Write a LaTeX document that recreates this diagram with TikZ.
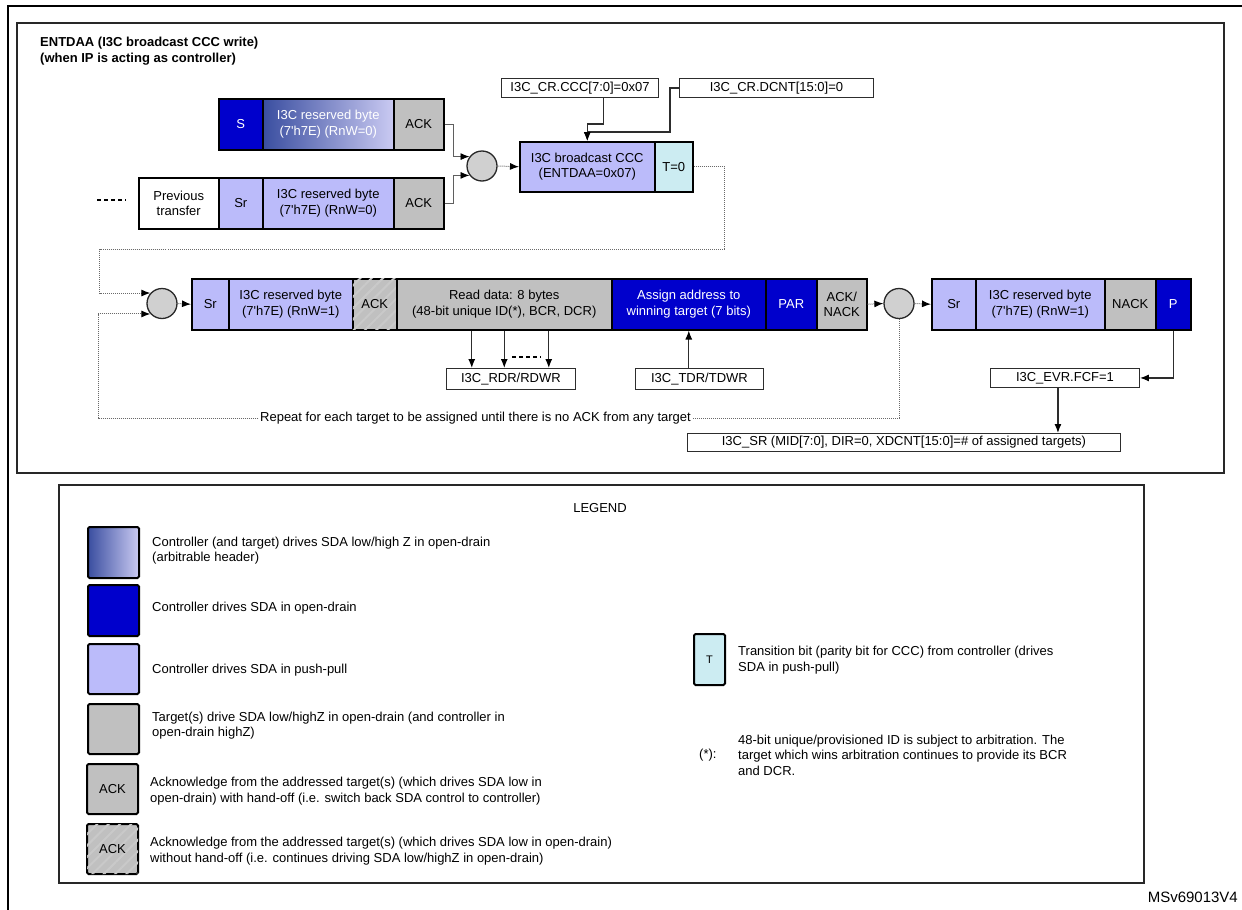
\documentclass[tikz,border=0pt]{standalone}
\usepackage{fontspec}
\setmainfont{Liberation Sans}
\usetikzlibrary{arrows.meta,patterns.meta,calc}
\definecolor{cdblue}{RGB}{0,0,204}
\definecolor{clav}{RGB}{187,187,250}
\definecolor{cgray}{RGB}{192,192,192}
\definecolor{ccyan}{RGB}{204,236,242}
\definecolor{cgl}{RGB}{58,78,160}
\definecolor{cgr}{RGB}{202,202,242}
\definecolor{chatch}{RGB}{201,201,201}
\definecolor{cjoin}{RGB}{208,208,208}
\definecolor{cline}{RGB}{45,45,45}
\definecolor{cthin}{RGB}{95,95,95}
\definecolor{cdot}{RGB}{105,105,105}
\definecolor{cframe}{RGB}{40,40,40}
\newcommand\fsz{\fontsize{13}{15.5}\selectfont}
\begin{document}
\begin{tikzpicture}[x=1pt,y=-1pt,
  >={Latex[length=9pt,width=7pt,color=black]},
  cell/.style={draw=black, line width=1.5pt, inner sep=0pt, minimum height=51pt, anchor=north west, align=center, font=\fsz},
  dblue/.style={cell, fill=cdblue, text=white},
  lav/.style={cell, fill=clav},
  gry/.style={cell, fill=cgray},
  hatch/.style={cell, fill=cgray, postaction={pattern={Lines[angle=45,distance=8pt,line width=2pt]}, pattern color=chatch}},
  jn/.style={circle, draw=cframe, line width=1.3pt, fill=cjoin, minimum size=30pt, inner sep=0pt},
  lbl/.style={draw=cline, line width=0.9pt, fill=white, inner sep=0pt, anchor=north west, font=\fsz},
  conn/.style={draw=cthin, line width=0.9pt, ->},
  dconn/.style={draw=cdot, line width=1pt, dash pattern=on 1pt off 1pt, ->},
  lconn/.style={draw=cline, line width=1.2pt, ->},
  dashline/.style={draw=black, line width=2pt, dash pattern=on 4pt off 3pt},
  sw/.style={draw=black, line width=2pt, rounded corners=1.5pt, minimum width=51pt, minimum height=51pt, anchor=north west, inner sep=0pt, font=\fsz},
  ltext/.style={anchor=west, align=left, font=\fsz, inner sep=0pt},
  frame/.style={draw=cframe, line width=1.3pt}
]
\useasboundingbox (0,0) rectangle (1242,910);
% outer and inner frames
\draw[line width=2pt] (8,910) -- (8,6) -- (1242,6);
\draw[frame] (17,23) rectangle (1224,473);
\node[anchor=west, align=left, font=\fsz\bfseries, inner sep=0pt] (title) at (40,51) {ENTDAA (I3C broadcast CCC write)\\(when IP is acting as controller)};

% row 1
\node[dblue, minimum width=44pt] (s1) at (218,98) {S};
\node[cell, left color=cgl, right color=cgr, text=white, minimum width=131pt] (rb1) at (262,98) {I3C reserved byte\\(7\textquotesingle h7E) (RnW=0)};
\node[gry, minimum width=50pt] (ack1) at (393,98) {ACK};
% row 2
\draw[dashline] (97,200) -- (126,200);
\node[cell, fill=white, minimum width=80pt] (prev) at (138,177) {Previous\\transfer};
\node[lav, minimum width=44pt] (sr0) at (218,177) {Sr};
\node[lav, minimum width=131pt] (rb2) at (262,177) {I3C reserved byte\\(7\textquotesingle h7E) (RnW=0)};
\node[gry, minimum width=50pt] (ack2) at (393,177) {ACK};
% join 1 and CCC
\node[jn] (j1) at (482,166) {};
\node[lav, minimum width=135pt, minimum height=50pt] (ccc) at (519,141) {I3C broadcast CCC\\(ENTDAA=0x07)};
\node[cell, fill=ccyan, minimum width=38pt, minimum height=50pt] (t0) at (654,141) {T=0};
\node[lbl, minimum width=157pt, minimum height=19pt] (lccc) at (501,78) {I3C\_CR.CCC[7:0]=0x07};
\node[lbl, minimum width=194pt, minimum height=19pt] (ldcnt) at (679,78) {I3C\_CR.DCNT[15:0]=0};

\draw[conn] (ack1.east) -- ++(9,0) |- (j1.143);
\draw[conn] (ack2.east) -- ++(9,0) |- (j1.217);
\draw[dconn] (j1.east) -- (ccc.west);
\draw[lconn] ([xshift=23.5pt]lccc.south) -- ++(0,26) -| (ccc.north);
\draw[lconn] (ldcnt.west) -- ++(-9,0) -- ++(0,44) -| (ccc.north);

% row 3
\node[jn] (j2) at (162,303.5) {};
\node[lav, minimum width=37pt] (sr1) at (191,278) {Sr};
\node[lav, minimum width=124pt] (rb3) at (228,278) {I3C reserved byte\\(7\textquotesingle h7E) (RnW=1)};
\node[hatch, minimum width=44pt] (ack3) at (352,278) {ACK};
\node[gry, minimum width=215pt] (rd) at (396,278) {Read data: 8 bytes\\(48-bit unique ID(*), BCR, DCR)};
\node[dblue, minimum width=154pt] (asg) at (611,278) {Assign address to\\winning target (7 bits)};
\node[dblue, minimum width=51pt] (par) at (765,278) {PAR};
\node[gry, minimum width=50pt] (an) at (816,278) {ACK/\\NACK};
\node[jn] (j3) at (899,303.5) {};
\node[lav, minimum width=44pt] (sr2) at (931,278) {Sr};
\node[lav, minimum width=129pt] (rb4) at (975,278) {I3C reserved byte\\(7\textquotesingle h7E) (RnW=1)};
\node[gry, minimum width=51pt] (nack) at (1104,278) {NACK};
\node[dblue, minimum width=35pt] (pp) at (1155,278) {P};

\node[lbl, minimum width=129pt, minimum height=21pt] (rdr) at (446,368) {I3C\_RDR/RDWR};
\node[lbl, minimum width=128pt, minimum height=21pt] (tdr) at (635,368) {I3C\_TDR/TDWR};
\node[lbl, minimum width=149pt, minimum height=19pt] (evr) at (990,368) {I3C\_EVR.FCF=1};
\node[lbl, minimum width=433pt, minimum height=18pt] (srr) at (687,433) {I3C\_SR (MID[7:0], DIR=0, XDCNT[15:0]=\# of assigned targets)};
\node[font=\fsz, inner sep=1.5pt] (rep) at (475.5,418) {Repeat for each target to be assigned until there is no ACK from any target};

\coordinate (lx) at (98,0);
\draw[dconn] (t0.east) -- ++(31,0) -- ++(0,83) -- ++(-625,0) |- (j2.138);
\draw[dconn, -] (j3.south) |- (rep.east);
\draw[dconn] (rep.west) -| (lx |- j2.222) -- (j2.222);
\draw[dconn] (j2.east) -- (sr1.west);
\draw[dconn] (an.east) -- (j3.west);
\draw[dconn] (j3.east) -- (sr2.west);

\coordinate (rda) at ([xshift=-32.5pt]rd.south);
\coordinate (rdb) at (rd.south);
\coordinate (rdc) at ([xshift=44.5pt]rd.south);
\draw[lconn] (rda) -- (rda |- rdr.north);
\draw[lconn] (rdb) -- (rdb |- rdr.north);
\draw[lconn] (rdc) -- (rdc |- rdr.north);
\draw[dashline] (512,357) -- (541,357);
\draw[lconn] (asg.south |- tdr.north) -- (asg.south);
\draw[lconn] (pp.south) |- (evr.east);
\coordinate (evb) at ([xshift=-7pt]evr.south);
\draw[lconn] (evb) -- (evb |- srr.north);

% legend
\draw[frame] (59,485) rectangle (1144,883);
\node[font=\fsz] (legt) at (600,508) {LEGEND};
\node[sw, left color=cgl, right color=cgr] (sw1) at (87,526) {};
\node[sw, fill=cdblue] (sw2) at (87,584) {};
\node[sw, fill=clav, minimum height=50pt] (sw3) at (87,643) {};
\node[sw, fill=cgray, minimum height=50pt] (sw4) at (87,703) {};
\node[sw, fill=cgray, minimum height=50pt] (sw5) at (86,763) {ACK};
\node[sw, fill=cgray, minimum height=50pt, postaction={pattern={Lines[angle=45,distance=8pt,line width=2pt]}, pattern color=chatch}] (sw6) at (86,823) {ACK};
\node[ltext] (lt1) at (152,550.5) {Controller (and target) drives SDA low/high Z in open-drain\\(arbitrable header)};
\node[ltext] (lt2) at (152,608) {Controller drives SDA in open-drain};
\node[ltext] (lt3) at (152,670) {Controller drives SDA in push-pull};
\node[ltext] (lt4) at (152,725.5) {Target(s) drive SDA low/highZ in open-drain (and controller in\\open-drain highZ)};
\node[ltext] (lt5) at (150,791) {Acknowledge from the addressed target(s) (which drives SDA low in\\open-drain) with hand-off (i.e. switch back SDA control to controller)};
\node[ltext] (lt6) at (150,851) {Acknowledge from the addressed target(s) (which drives SDA low in open-drain)\\without hand-off (i.e. continues driving SDA low/highZ in open-drain)};
\node[sw, fill=ccyan, minimum width=31pt] (swt) at (693,633) {\fontsize{11}{13}\selectfont T};
\node[ltext] (ltt) at (738,660) {Transition bit (parity bit for CCC) from controller (drives\\SDA in push-pull)};
\node[ltext] (ast) at (699,755) {(*):};
\node[ltext] (lta) at (738,755) {48-bit unique/provisioned ID is subject to arbitration. The\\target which wins arbitration continues to provide its BCR\\and DCR.};
\node[anchor=east, font=\fontsize{15}{17}\selectfont, inner sep=0pt] (msv) at (1238,897) {MSv69013V4};
\end{tikzpicture}
\end{document}
